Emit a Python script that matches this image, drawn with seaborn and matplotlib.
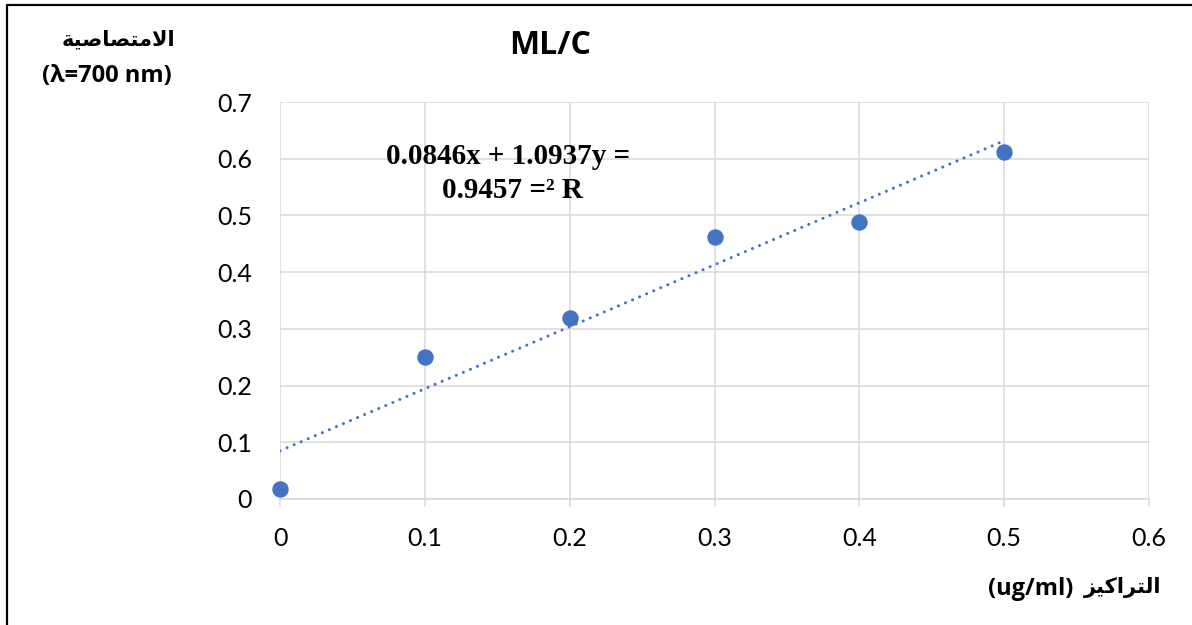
import numpy as np
import pandas as pd
import matplotlib
matplotlib.use("Agg")
import matplotlib.pyplot as plt
from matplotlib.lines import Line2D
import seaborn as sns

# ---- data ----
concentration = [0.0, 0.1, 0.2, 0.3, 0.4, 0.5]
absorbance = [0.018, 0.250, 0.320, 0.462, 0.488, 0.612]
x_ticks = [0, 0.1, 0.2, 0.3, 0.4, 0.5, 0.6]
x_tick_labels = ["0", "0.1", "0.2", "0.3", "0.4", "0.5", "0.6"]
y_ticks = [0, 0.1, 0.2, 0.3, 0.4, 0.5, 0.6, 0.7]
y_tick_labels = ["0", "0.1", "0.2", "0.3", "0.4", "0.5", "0.6", "0.7"]
title_text = "ML/C"
eq_line1 = "0.0846x + 1.0937y ="
eq_line2 = "0.9457 =\u00b2 R"
# Arabic labels written in presentation forms (visual order) so they render joined
ylabel_ar = "\uFE94\uFEF4\uFEBB\uFE8E\uFEBC\uFE98\uFEE3\uFEFB\uFE8D"   # الامتصاصية
ylabel_en = "(\u03bb=700 nm)"
xlabel_ar = "\uFEB0\uFEF4\uFEDB\uFE8D\uFEAE\uFE98\uFEDF\uFE8D"          # التراكيز
xlabel_en = "(ug/ml)"

df = pd.DataFrame({"conc": concentration, "abs": absorbance})

sns.set_theme(style="white")
plt.rcParams["font.family"] = ["Lato", "DejaVu Sans"]

W, H = 1192, 625
fig = plt.figure(figsize=(W / 100, H / 100), dpi=100)
fig.patch.set_facecolor("white")

ax = fig.add_axes([280 / W, 1 - 499 / H, (1149 - 280) / W, (499 - 102) / H])
ax.set_facecolor("white")

blue = "#4472C4"
grid_c = "#D9D9D9"
bold_family = ["Open Sans", "DejaVu Sans"]

sns.regplot(data=df, x="conc", y="abs", ax=ax, scatter=False, ci=None,
            truncate=True,
            line_kws=dict(color=blue, lw=2.2, linestyle=(0, (0.01, 2.5)),
                          dash_capstyle="round", zorder=3))
sns.scatterplot(data=df, x="conc", y="abs", ax=ax, s=140, color=blue,
                edgecolor=blue, linewidth=0, zorder=4, clip_on=False)

ax.set_xlim(0, 0.6)
ax.set_ylim(0, 0.7)
ax.set_xticks(x_ticks)
ax.set_xticklabels(x_tick_labels)
ax.set_yticks(y_ticks)
ax.set_yticklabels(y_tick_labels)
ax.set_xlabel("")
ax.set_ylabel("")

ax.grid(True, color=grid_c, lw=1.1)
ax.set_axisbelow(True)
for s in ["top", "right", "left"]:
    ax.spines[s].set_visible(False)
ax.spines["bottom"].set_color(grid_c)
ax.spines["bottom"].set_linewidth(1.1)
ax.tick_params(axis="x", length=6, width=1.1, color=grid_c, pad=14,
               labelsize=18, labelcolor="black", bottom=True)
ax.tick_params(axis="y", length=0, pad=20, labelsize=18, labelcolor="black", left=True)

# title
fig.text(550 / W, 1 - 46 / H, title_text, ha="center", va="center",
         fontsize=23, fontweight="bold", family=bold_family, color="black")

# equation
fig.text(508 / W, 1 - 156 / H, eq_line1, ha="center", va="center",
         fontsize=21, fontweight="bold", family=["Liberation Serif"], color="black")
fig.text(512 / W, 1 - 191 / H, eq_line2, ha="center", va="center",
         fontsize=21, fontweight="bold", family=["Liberation Serif"], color="black")

# y label
fig.text(118 / W, 1 - 39 / H, ylabel_ar, ha="center", va="center",
         fontsize=15, fontweight="bold", family=["DejaVu Sans"], color="black")
fig.text(107 / W, 1 - 76 / H, ylabel_en, ha="center", va="center",
         fontsize=17, fontweight="bold", family=bold_family, color="black")

# x label
fig.text(1073 / W, 1 - 589 / H, xlabel_en, ha="right", va="center",
         fontsize=17, fontweight="bold", family=bold_family, color="black")
fig.text(1161 / W, 1 - 587 / H, xlabel_ar, ha="right", va="center",
         fontsize=15, fontweight="bold", family=["DejaVu Sans"], color="black")

# chart border
fig.add_artist(Line2D([7 / W, 1.0], [1 - 5 / H, 1 - 5 / H], transform=fig.transFigure,
                      color="black", lw=1.6))
fig.add_artist(Line2D([7 / W, 7 / W], [0.0, 1 - 5 / H], transform=fig.transFigure,
                      color="black", lw=1.6))

fig.savefig("out.png", dpi=100, facecolor="white")
